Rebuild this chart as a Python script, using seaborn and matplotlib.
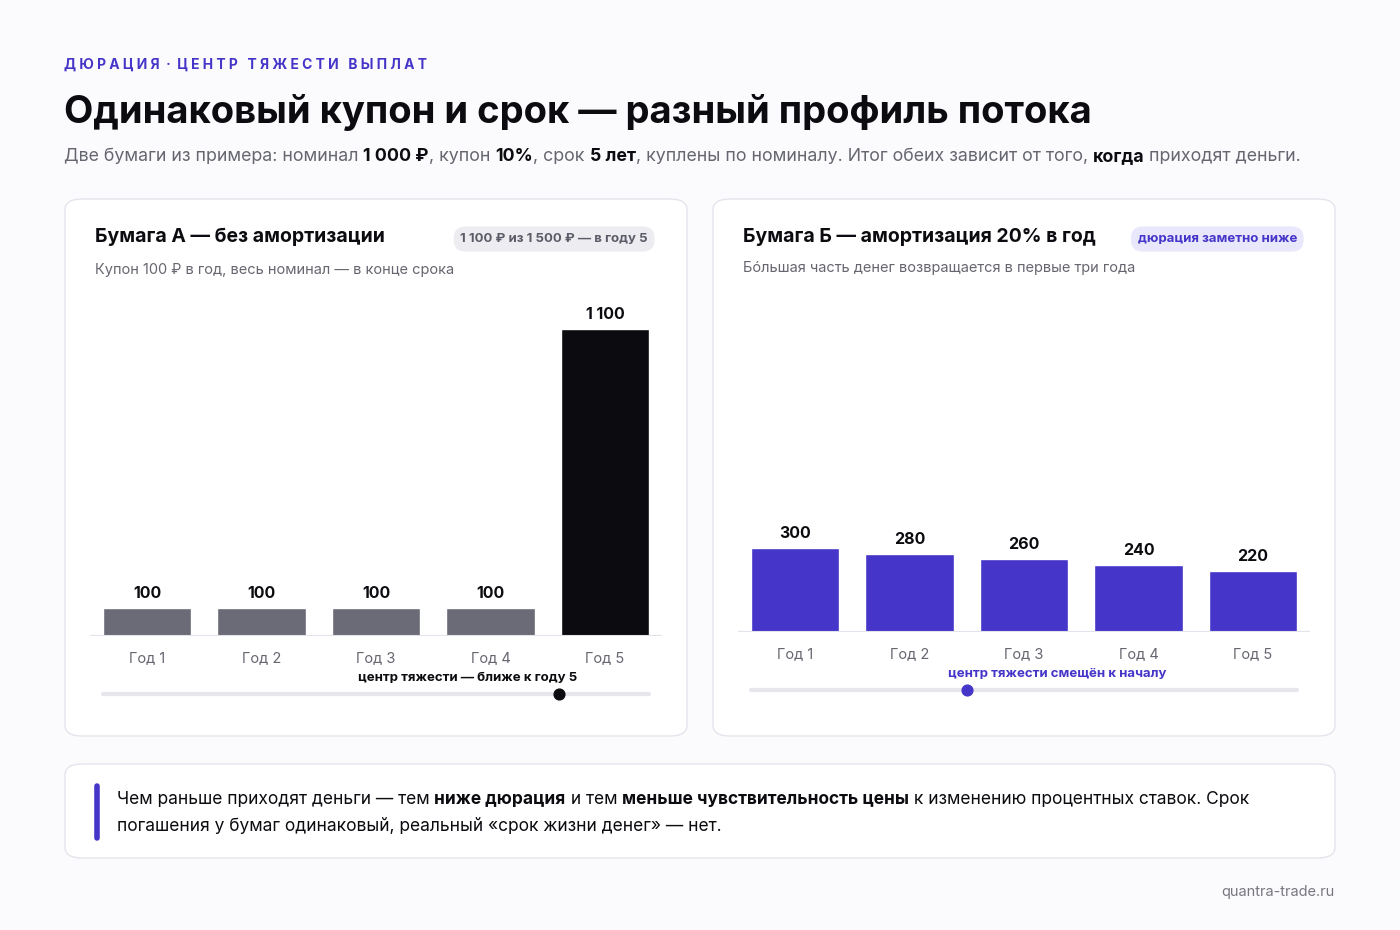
import matplotlib
matplotlib.use('Agg')
import matplotlib.pyplot as plt
from matplotlib.patches import FancyBboxPatch
import seaborn as sns
import pandas as pd

# ── Data ───────────────────────────────────────────────────────────────
years = ['Год 1', 'Год 2', 'Год 3', 'Год 4', 'Год 5']
flows_a = [100, 100, 100, 100, 1100]
flows_b = [300, 280, 260, 240, 220]
center_a = 4.6   # position of the centre-of-gravity dot, in years
center_b = 2.5

sns.set_theme(style='white')
plt.rcParams['font.family'] = ['Inter', 'DejaVu Sans']

W, H = 1400, 930
fig = plt.figure(figsize=(W / 100, H / 100), dpi=100, facecolor='#fbfbfd')
renderer = fig.canvas.get_renderer()

INDIGO = '#4535c8'
GREY = '#6b6b78'


def fx(x): return x / W
def fy(y): return 1 - y / H


def card(x0, y0, x1, y1):
    fig.patches.append(FancyBboxPatch((fx(x0), fy(y1)), fx(x1 - x0), (y1 - y0) / H,
                                      boxstyle='round,pad=0,rounding_size=0.012',
                                      transform=fig.transFigure, facecolor='white',
                                      edgecolor='#e4e4ec', lw=1, zorder=-5))


def runs(x, y, parts, size, color='#666670', va='baseline'):
    for txt, bold in parts:
        t = fig.text(fx(x), fy(y), txt, fontsize=size, va=va,
                     color='#0b0b10' if bold else color,
                     fontweight='bold' if bold else 'normal')
        x += t.get_window_extent(renderer).width


def axes_px(x0, y0, x1, y1):
    ax = fig.add_axes([fx(x0), fy(y1), fx(x1 - x0), (y1 - y0) / H])
    ax.set_zorder(2)
    return ax


# ── Header ─────────────────────────────────────────────────────────────
fig.text(fx(64), fy(65), 'Д Ю Р А Ц И Я  ·  Ц Е Н Т Р   Т Я Ж Е С Т И   В Ы П Л А Т',
         fontsize=10, fontweight='bold', color=INDIGO, va='center')
fig.text(fx(64), fy(112), 'Одинаковый купон и срок — разный профиль потока',
         fontsize=27.5, fontweight='bold', color='#0b0b10', va='center')
runs(64, 161, [('Две бумаги из примера: номинал ', False), ('1 000 ₽', True),
               (', купон ', False), ('10%', True), (', срок ', False), ('5 лет', True),
               (', куплены по номиналу. Итог обеих зависит от того, ', False),
               ('когда', True), (' приходят деньги.', False)], 12.8)

# ── Cards ──────────────────────────────────────────────────────────────
card(65, 199, 687, 736)
card(713, 199, 1335, 736)
card(65, 764, 1335, 858)


def panel(x0, bar_left, baseline, flows, colors, title, subtitle, sub_y,
          badge, badge_x, badge_fc, badge_col, note, note_x, note_col, center, dot_col):
    fig.text(fx(x0), fy(237), title, fontsize=14, fontweight='bold',
             color='#0b0b10', va='center')
    fig.text(fx(badge_x), fy(239), badge, fontsize=9.5, fontweight='bold',
             color=badge_col, va='center', ha='right',
             bbox=dict(boxstyle='round,pad=0.5,rounding_size=0.9',
                       fc=badge_fc, ec='none'))
    fig.text(fx(x0), fy(sub_y), subtitle, fontsize=10.5, color='#666670', va='center')

    step = 114.5
    left = bar_left + 44 - step / 2
    right = left + 5 * step
    ax = axes_px(left, baseline - 340, right, baseline)
    df = pd.DataFrame({'year': years, 'value': flows})
    sns.barplot(data=df, x='year', y='value', hue='year', palette=colors,
                legend=False, width=0.77, saturation=1, ax=ax)
    for p, v in zip(ax.patches, flows):
        ax.text(p.get_x() + p.get_width() / 2, v + 25, f'{v:,}'.replace(',', ' '),
                ha='center', va='bottom', fontsize=11.5, fontweight='bold',
                color='#0b0b10')
    ax.set_ylim(0, 1100 * 340 / 307)
    ax.set_xlim(-0.5, 4.5)
    ax.axhline(0, color='#e2e2ea', lw=1.5)
    ax.set_facecolor('none')
    for s in ax.spines.values():
        s.set_visible(False)
    ax.set_yticks([])
    ax.set_xlabel('')
    ax.set_ylabel('')
    ax.tick_params(axis='x', length=0, pad=11, labelsize=10.5, labelcolor='#666670')

    ax2 = axes_px(left, baseline + 45, right, baseline + 71)
    ax2.set_xlim(-0.5, 4.5)
    ax2.set_ylim(-1, 1)
    ax2.axis('off')
    ax2.plot([-0.385, 4.385], [0, 0], color='#e6e6ec', lw=3, solid_capstyle='round')
    ax2.scatter([center - 1], [0], s=60, color=dot_col, zorder=3)
    ax2.text(note_x, 0.75, note, ha='center', va='bottom',
             fontsize=9.5, fontweight='bold', color=note_col)


panel(95, 103, 636, flows_a, [GREY] * 4 + ['#0b0b10'],
      'Бумага А — без амортизации', 'Купон 100 ₽ в год, весь номинал — в конце срока', 270,
      '1 100 ₽ из 1 500 ₽ — в году 5', 648, '#ececf1', '#5c5c68',
      'центр тяжести — ближе к году 5', 2.8, '#0b0b10', center_a, '#0b0b10')
panel(743, 751, 632, flows_b, [INDIGO] * 5,
      'Бумага Б — амортизация 20% в год', 'Бóльшая часть денег возвращается в первые три года', 268,
      'дюрация заметно ниже', 1297, '#e9e7fb', INDIGO,
      'центр тяжести смещён к началу', 2.29, INDIGO, center_b, INDIGO)

# ── Footer note ────────────────────────────────────────────────────────
fig.add_artist(plt.Line2D([fx(97), fx(97)], [fy(786), fy(838)], color=INDIGO, lw=4,
                          transform=fig.transFigure, solid_capstyle='round'))
runs(117, 804, [('Чем раньше приходят деньги — тем ', False), ('ниже дюрация', True),
                (' и тем ', False), ('меньше чувствительность цены', True),
                (' к изменению процентных ставок. Срок', False)], 12.5, color='#0b0b10')
runs(117, 831, [('погашения у бумаг одинаковый, реальный «срок жизни денег» — нет.', False)],
     12.5, color='#0b0b10')
fig.text(fx(1335), fy(892), 'quantra-trade.ru', fontsize=10.5, color='#777780',
         ha='right', va='center')

fig.savefig('out.png', dpi=100, facecolor=fig.get_facecolor())
